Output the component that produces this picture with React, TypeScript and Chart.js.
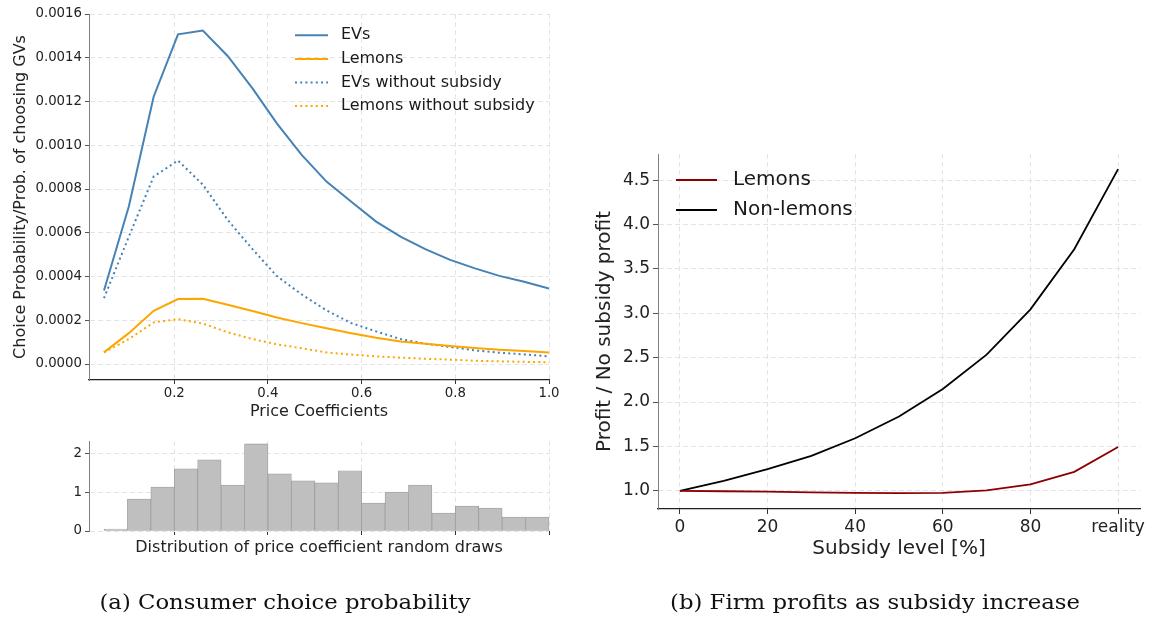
import React, { useEffect, useRef } from 'react';
import { Chart, registerables } from 'chart.js';

Chart.register(...registerables);

const SANS = "'DejaVu Sans', sans-serif";

// Price coefficient grid and choice probabilities
const priceCoefficients = [0.05, 0.103, 0.156, 0.208, 0.261, 0.314, 0.367, 0.419, 0.472, 0.525, 0.578, 0.631, 0.683, 0.736, 0.789, 0.842, 0.894, 0.947, 1.0];
const evsProb = [0.000336, 0.00072, 0.001222, 0.001507, 0.001524, 0.001408, 0.00126, 0.0011, 0.000956, 0.000834, 0.000742, 0.000651, 0.000582, 0.000525, 0.000476, 0.000437, 0.000403, 0.000376, 0.000345];
const lemonsProb = [0.000053, 0.000141, 0.000243, 0.000297, 0.000298, 0.000271, 0.000242, 0.000213, 0.000187, 0.000163, 0.000141, 0.00012, 0.000103, 0.000093, 0.000082, 0.000073, 0.000065, 0.000059, 0.000053];
const evsNoSubsidyProb = [0.000301, 0.000582, 0.000857, 0.00093, 0.00082, 0.000659, 0.000525, 0.000402, 0.000318, 0.000245, 0.000187, 0.000149, 0.000114, 0.000093, 0.000078, 0.000062, 0.000052, 0.000044, 0.000035];
const lemonsNoSubsidyProb = [0.000053, 0.000114, 0.00019, 0.000205, 0.000185, 0.000145, 0.000114, 0.00009, 0.000072, 0.000053, 0.000043, 0.000035, 0.000029, 0.000024, 0.00002, 0.000015, 0.000012, 0.00001, 0.000008];
const probTicks = [0, 0.0002, 0.0004, 0.0006, 0.0008, 0.001, 0.0012, 0.0014, 0.0016];
const coefTicks = [0.2, 0.4, 0.6, 0.8, 1.0];

// Histogram of price coefficient draws
const drawBinCenters = [0.075, 0.125, 0.175, 0.225, 0.275, 0.325, 0.375, 0.425, 0.475, 0.525, 0.575, 0.625, 0.675, 0.725, 0.775, 0.825, 0.875, 0.925, 0.975];
const drawDensity = [0.05, 0.82, 1.13, 1.6, 1.83, 1.18, 2.24, 1.47, 1.29, 1.24, 1.55, 0.72, 1.0, 1.18, 0.46, 0.64, 0.59, 0.36, 0.36];
const densityTicks = [0, 1, 2];

// Firm profits relative to no subsidy
const subsidyLevels = [0, 10, 20, 30, 40, 50, 60, 70, 80, 90, 100];
const subsidyTicks = [0, 20, 40, 60, 80, 100];
const subsidyTickLabels = ['0', '20', '40', '60', '80', 'reality'];
const lemonsProfit = [1.0, 0.995, 0.99, 0.982, 0.976, 0.973, 0.977, 1.005, 1.072, 1.213, 1.493];
const nonLemonsProfit = [1.0, 1.113, 1.244, 1.394, 1.592, 1.838, 2.147, 2.534, 3.045, 3.722, 4.624];
const profitTicks = [1.0, 1.5, 2.0, 2.5, 3.0, 3.5, 4.0, 4.5];

const xy = (xs: number[], ys: number[]) => xs.map((x, i) => ({ x, y: ys[i] }));
const fixedTicks = (values: number[]) => (s: any) => {
  s.ticks = values.map((value) => ({ value }));
};

function inlineLegend(cfg: { dx: number; dy: number; gap: number; handle: number; textGap: number; size: number }) {
  return {
    id: 'inlineLegend',
    afterDatasetsDraw(chart: any) {
      const { ctx, chartArea } = chart;
      ctx.save();
      chart.data.datasets.forEach((ds: any, i: number) => {
        const x = chartArea.left + cfg.dx;
        const y = chartArea.top + cfg.dy + i * cfg.gap;
        ctx.beginPath();
        ctx.setLineDash(ds.borderDash || []);
        ctx.strokeStyle = ds.borderColor;
        ctx.lineWidth = ds.borderWidth;
        ctx.moveTo(x, y);
        ctx.lineTo(x + cfg.handle, y);
        ctx.stroke();
        ctx.setLineDash([]);
        ctx.fillStyle = '#1a1a1a';
        ctx.font = `${cfg.size}px ${SANS}`;
        ctx.textBaseline = 'middle';
        ctx.textAlign = 'left';
        ctx.fillText(ds.label, x + cfg.handle + cfg.textGap, y);
      });
      ctx.restore();
    },
  };
}

const GRID = '#e4e4e4';

function probabilityConfig(): any {
  const line = (label: string, data: number[], color: string, dotted: boolean) => ({
    label,
    data: xy(priceCoefficients, data),
    borderColor: color,
    borderWidth: 2,
    borderDash: dotted ? [2, 3.2] : [],
    pointRadius: 0,
    fill: false,
    tension: 0,
  });
  return {
    type: 'line',
    data: {
      datasets: [
        line('EVs', evsProb, '#4682b4', false),
        line('Lemons', lemonsProb, '#ffa500', false),
        line('EVs without subsidy', evsNoSubsidyProb, '#4682b4', true),
        line('Lemons without subsidy', lemonsNoSubsidyProb, '#ffa500', true),
      ],
    },
    options: {
      animation: false,
      responsive: false,
      devicePixelRatio: 1,
      layout: { padding: { top: 14, right: 26, bottom: 0, left: 0 } },
      plugins: { legend: { display: false }, tooltip: { enabled: false } },
      scales: {
        x: {
          type: 'linear',
          min: 0.018,
          max: 1.0,
          afterBuildTicks: fixedTicks(coefTicks),
          afterFit: (s: any) => { s.height = 50; },
          grid: { color: GRID, lineWidth: 1, tickLength: 4, tickColor: '#333', tickWidth: 1 },
          border: { display: true, color: '#222', width: 1.2, dash: [5, 3] },
          ticks: { font: { family: SANS, size: 13.3 }, color: '#222', padding: 2, maxRotation: 0, autoSkip: false, callback: (v: any) => Number(v).toFixed(1) },
          title: { display: true, text: 'Price Coefficients', font: { family: SANS, size: 16 }, color: '#222', padding: { top: 0, bottom: 8.4 } },
        },
        y: {
          type: 'linear',
          min: -0.0000731,
          max: 0.0016,
          afterBuildTicks: fixedTicks(probTicks),
          afterFit: (s: any) => { s.width = 89; },
          grid: { color: GRID, lineWidth: 1, tickLength: 4, tickColor: '#555', tickWidth: 1 },
          border: { display: true, color: '#808080', width: 1, dash: [5, 3] },
          ticks: { font: { family: SANS, size: 13.3 }, color: '#222', padding: 3, autoSkip: false, callback: (v: any) => Number(v).toFixed(4) },
          title: { display: true, text: 'Choice Probability/Prob. of choosing GVs', font: { family: SANS, size: 16 }, color: '#222', padding: { top: 11, bottom: 0 } },
        },
      },
    },
    plugins: [inlineLegend({ dx: 206, dy: 21.3, gap: 23.6, handle: 33, textGap: 13, size: 16 })],
  };
}

function histogramConfig(): any {
  return {
    type: 'bar',
    data: {
      datasets: [
        {
          data: xy(drawBinCenters, drawDensity),
          backgroundColor: '#bfbfbf',
          borderColor: '#9c9c9c',
          borderWidth: 0.8,
          borderSkipped: false,
          barPercentage: 1,
          categoryPercentage: 1,
        },
      ],
    },
    options: {
      animation: false,
      responsive: false,
      devicePixelRatio: 1,
      layout: { padding: { top: 11, right: 26, bottom: 0, left: 0 } },
      plugins: { legend: { display: false }, tooltip: { enabled: false } },
      scales: {
        x: {
          type: 'linear',
          min: 0.018,
          max: 1.0,
          offset: false,
          z: 1,
          afterBuildTicks: fixedTicks(coefTicks),
          afterFit: (s: any) => { s.height = 39; },
          grid: { offset: false, color: GRID, lineWidth: 1, tickLength: 4, tickColor: '#333', tickWidth: 1 },
          border: { display: false, dash: [5, 3] },
          ticks: { display: false },
          title: { display: true, text: 'Distribution of price coefficient random draws', font: { family: SANS, size: 16 }, color: '#222', padding: { top: 0, bottom: 12.4 } },
        },
        y: {
          type: 'linear',
          min: 0,
          max: 2.315,
          z: 1,
          afterBuildTicks: fixedTicks(densityTicks),
          afterFit: (s: any) => { s.width = 89; },
          grid: { color: GRID, lineWidth: 1, tickLength: 4, tickColor: '#555', tickWidth: 1 },
          border: { display: true, color: '#808080', width: 1, dash: [5, 3] },
          ticks: { font: { family: SANS, size: 13.3 }, color: '#222', padding: 3, autoSkip: false, callback: (v: any) => String(v) },
        },
      },
    },
  };
}

function profitConfig(): any {
  const line = (label: string, data: number[], color: string) => ({
    label,
    data: xy(subsidyLevels, data),
    borderColor: color,
    borderWidth: 1.8,
    pointRadius: 0,
    fill: false,
    tension: 0,
  });
  return {
    type: 'line',
    data: {
      datasets: [line('Lemons', lemonsProfit, '#8b0000'), line('Non-lemons', nonLemonsProfit, '#000000')],
    },
    options: {
      animation: false,
      responsive: false,
      devicePixelRatio: 1,
      layout: { padding: { top: 24, right: 14, bottom: 0, left: 0 } },
      plugins: { legend: { display: false }, tooltip: { enabled: false } },
      scales: {
        x: {
          type: 'linear',
          min: -5,
          max: 105,
          afterBuildTicks: fixedTicks(subsidyTicks),
          afterFit: (s: any) => { s.height = 61; },
          grid: { color: GRID, lineWidth: 1, tickLength: 5, tickColor: '#333', tickWidth: 1 },
          border: { display: true, color: '#222', width: 1.2, dash: [5, 3] },
          ticks: {
            font: { family: SANS, size: 17 },
            color: '#222',
            padding: 3,
            maxRotation: 0,
            autoSkip: false,
            callback: (v: any) => subsidyTickLabels[subsidyTicks.indexOf(Number(v))],
          },
          title: { display: true, text: 'Subsidy level [%]', font: { family: SANS, size: 20 }, color: '#222', padding: { top: 0, bottom: 9 } },
        },
        y: {
          type: 'linear',
          min: 0.795,
          max: 4.795,
          afterBuildTicks: fixedTicks(profitTicks),
          afterFit: (s: any) => { s.width = 78; },
          grid: { color: GRID, lineWidth: 1, tickLength: 5, tickColor: '#555', tickWidth: 1 },
          border: { display: true, color: '#808080', width: 1, dash: [5, 3] },
          ticks: { font: { family: SANS, size: 17 }, color: '#222', padding: 3, autoSkip: false, callback: (v: any) => Number(v).toFixed(1) },
          title: { display: true, text: 'Profit / No subsidy profit', font: { family: SANS, size: 20 }, color: '#222', padding: { top: 13, bottom: 0 } },
        },
      },
    },
    plugins: [inlineLegend({ dx: 18, dy: 26, gap: 30, handle: 41, textGap: 16, size: 20 })],
  };
}

function ChartCanvas(props: { left: number; top: number; width: number; height: number; build: () => any }) {
  const ref = useRef<HTMLCanvasElement>(null);
  useEffect(() => {
    const chart = new Chart(ref.current as HTMLCanvasElement, props.build());
    return () => chart.destroy();
  }, []);
  return (
    <canvas
      ref={ref}
      width={props.width}
      height={props.height}
      style={{ position: 'absolute', left: props.left, top: props.top, width: props.width, height: props.height }}
    />
  );
}

export default function App() {
  return (
    <div style={{ position: 'absolute', left: 0, top: 0, width: 1154, height: 619, background: '#ffffff', overflow: 'hidden' }}>
      <ChartCanvas left={0} top={0} width={575} height={430} build={probabilityConfig} />
      <ChartCanvas left={0} top={430} width={575} height={140} build={histogramConfig} />
      <ChartCanvas left={580} top={130} width={574} height={440} build={profitConfig} />
      <svg width={1154} height={619} style={{ position: 'absolute', left: 0, top: 0, pointerEvents: 'none' }}>
        <text x={285} y={609} textAnchor="middle" fontFamily="'DejaVu Serif', serif" fontSize={20.5} textLength={371} lengthAdjust="spacingAndGlyphs" fill="#111">
          (a) Consumer choice probability
        </text>
        <text x={875} y={609} textAnchor="middle" fontFamily="'DejaVu Serif', serif" fontSize={20.5} textLength={410} lengthAdjust="spacingAndGlyphs" fill="#111">
          (b) Firm profits as subsidy increase
        </text>
      </svg>
    </div>
  );
}
